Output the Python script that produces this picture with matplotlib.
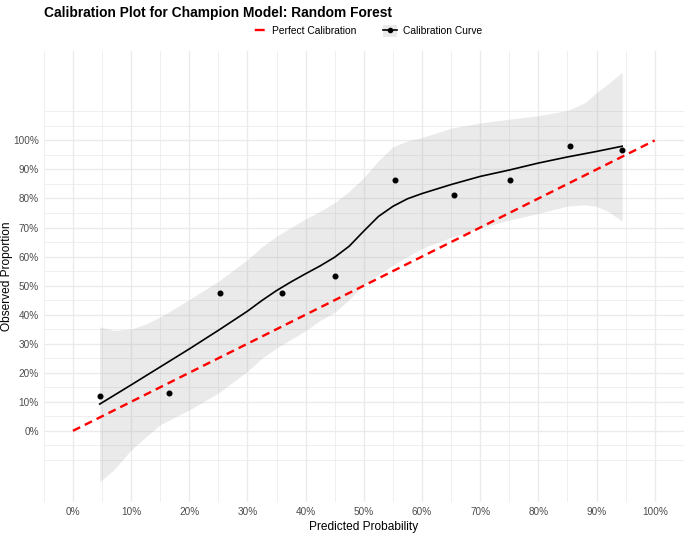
# libraries
import numpy as np
import matplotlib
matplotlib.use("Agg")
import matplotlib.pyplot as plt
from matplotlib.lines import Line2D
from matplotlib.patches import Patch

plt.rcParams['font.family'] = ['Liberation Sans', 'DejaVu Sans']

# binned calibration points (predicted %, observed %)
bin_pred = [4.6, 16.5, 25.3, 35.9, 45.1, 55.4, 65.5, 75.1, 85.4, 94.4]
bin_obs = [12.0, 13.1, 47.3, 47.3, 53.3, 86.3, 81.1, 86.3, 98.2, 96.7]

# smoothed calibration curve
curve_x = [4.6, 10, 15, 20, 25, 30, 32.5, 35, 37.5, 40, 42.5, 45, 47.5, 50,
           52.5, 55, 57.5, 60, 65, 70, 75, 80, 85, 90, 94.4]
curve_y = [9.2, 15.8, 22.0, 28.2, 34.6, 41.2, 44.9, 48.3, 51.3, 54.1, 56.8,
           59.8, 63.6, 68.8, 73.8, 77.3, 79.9, 81.7, 84.8, 87.6, 89.8, 92.2,
           94.3, 96.2, 98.0]

# confidence band around the curve
band_x = [4.6, 7, 10, 12.5, 15, 20, 25, 30, 32.5, 35, 37.5, 40, 42.5, 45,
          47.5, 50, 52.5, 55, 57.5, 60, 65, 70, 75, 80, 85, 88, 90, 92, 94.4]
band_lo = [-17.5, -13.5, -6.6, -2.2, 2.1, 7.2, 13.0, 20.5, 25.0, 28.5, 31.5,
           34.5, 38.0, 40.8, 45.2, 50.3, 53.8, 57.0, 60.0, 62.8, 66.6, 69.8,
           72.6, 74.8, 77.4, 77.8, 77.3, 75.5, 72.2]
band_hi = [35.8, 34.6, 35.0, 36.8, 39.2, 45.2, 51.5, 59.0, 63.4, 67.0, 70.0,
           73.0, 75.6, 78.6, 82.5, 87.2, 93.0, 97.8, 99.8, 101.0, 104.2, 106.0,
           107.3, 108.5, 110.3, 113.0, 116.5, 119.5, 123.5]

# perfect calibration reference
ref_x = [0, 100]
ref_y = [0, 100]

to_frac = lambda v: np.array(v) / 100.0

fig = plt.figure(figsize=(6.85, 5.33), dpi=100)
ax = fig.add_axes([0.064, 0.0582, 0.9343, 0.8462])

# band, curve, points, reference line
ax.fill_between(to_frac(band_x), to_frac(band_lo), to_frac(band_hi),
                color='#999999', alpha=0.2, linewidth=0, zorder=2)
ax.plot(to_frac(curve_x), to_frac(curve_y), color='black', linewidth=1.2,
        zorder=3)
ax.scatter(to_frac(bin_pred), to_frac(bin_obs), s=11, color='black', zorder=4)
ax.plot(to_frac(ref_x), to_frac(ref_y), color='#FF0000', linewidth=1.7,
        dashes=(3.4, 2.2), zorder=5)

# axes look like theme_minimal
ax.set_xlim(-0.05, 1.05)
ax.set_ylim(-0.245, 1.308)
major = np.round(np.arange(0, 1.01, 0.1), 2)
ax.set_xticks(major)
ax.set_yticks(major)
ax.set_xticklabels(['%d%%' % round(v * 100) for v in major])
ax.set_yticklabels(['%d%%' % round(v * 100) for v in major])
ax.set_xticks(np.round(np.arange(-0.05, 1.06, 0.1), 2), minor=True)
ax.set_yticks(np.round(np.r_[-0.1, np.arange(-0.05, 1.06, 0.1), 1.1], 2),
              minor=True)
ax.grid(which='major', color='#EBEBEB', linewidth=1.0, zorder=0)
ax.grid(which='minor', color='#EBEBEB', linewidth=0.55, zorder=0)
ax.set_axisbelow(True)
ax.tick_params(which='both', length=0, labelsize=7.2, colors='#4D4D4D',
               pad=3.5)
for s in ax.spines.values():
    s.set_visible(False)

ax.set_xlabel('Predicted Probability', fontsize=8.6, labelpad=3)
ax.set_ylabel('Observed Proportion', fontsize=8.6)
ax.yaxis.set_label_coords(-0.048, 0.5)

fig.text(0.064, 0.975, 'Calibration Plot for Champion Model: Random Forest',
         fontsize=9.9, fontweight='bold', ha='left', va='center')

# legend on top, single centred dash in the first key
h_ref = Line2D([], [], color='#FF0000', linewidth=1.7,
               dashes=(0, 0.75, 4.2, 12), dash_capstyle='butt')
h_curve = (Patch(facecolor='#999999', alpha=0.2, edgecolor='none'),
           Line2D([], [], color='black', linewidth=1.2, marker='o',
                  markersize=3))
fig.legend([h_ref, h_curve], ['Perfect Calibration', 'Calibration Curve'],
           loc='center', bbox_to_anchor=(0.536, 0.942), ncol=2, frameon=False,
           fontsize=7.4, handlelength=1.3, handleheight=1.3,
           columnspacing=2.6, handletextpad=0.6)

fig.savefig('out.png', dpi=100)
